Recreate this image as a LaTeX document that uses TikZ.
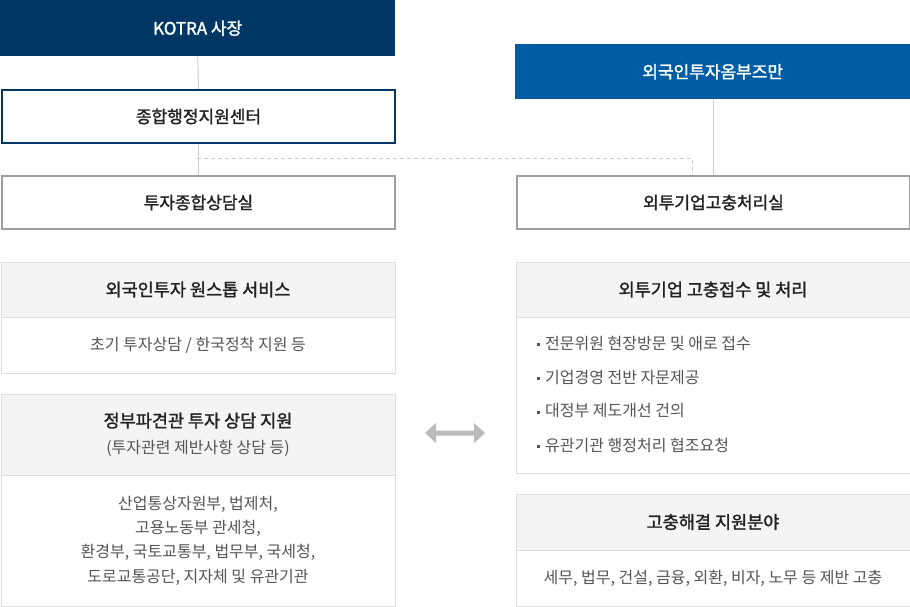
\documentclass[tikz,border=0pt]{standalone}
\usepackage{fontspec}
\usetikzlibrary{calc}
\setmainfont{Noto Sans CJK KR}
\newfontfamily\krmed{Noto Sans CJK KR}[BoldFont={Noto Sans CJK KR}, BoldFeatures={FakeBold=1.6}]
\definecolor{navy}{HTML}{003764}
\definecolor{ombu}{HTML}{005DA4}
\definecolor{hdr}{HTML}{F4F4F4}
\definecolor{bdr}{HTML}{DDDDDD}
\definecolor{gbdr}{HTML}{9E9E9E}
\definecolor{ln}{HTML}{CCCCCC}
\definecolor{txt}{HTML}{222222}
\definecolor{sub}{HTML}{555555}
\definecolor{arr}{HTML}{BBBBBB}
\tikzset{
  box/.style={minimum width=395pt, inner sep=0pt, anchor=north west},
  fillbox/.style={box, minimum height=55pt, text=white, font=\fontsize{17}{20}\selectfont\krmed\bfseries},
  orgbox/.style={box, minimum height=53pt, line width=2pt, text=txt, font=\fontsize{17}{20}\selectfont\krmed\bfseries},
  hdrbox/.style={box, fill=hdr, draw=bdr, line width=1pt, text=txt, font=\fontsize{17.5}{20}\selectfont\krmed\bfseries},
  bodybox/.style={box, fill=white, draw=bdr, line width=1pt, text=sub, font=\fontsize{16}{24.3}\selectfont, align=center},
  conn/.style={draw=ln, line width=1pt},
  dconn/.style={draw=ln, line width=1pt, dash pattern=on 4pt off 3pt},
  item/.style={anchor=west, text=sub, font=\fontsize{16}{18}\selectfont, inner sep=0pt},
  bul/.style={fill=sub, minimum size=3pt, inner sep=0pt},
}
\begin{document}
\begin{tikzpicture}[x=1pt,y=-1pt]
\useasboundingbox (0,0) rectangle (910,606);
% top organisation
\node[fillbox, fill=navy, minimum height=56pt] (kotra) at (0,0) {KOTRA 사장};
\node[orgbox, draw=navy, minimum width=393pt] (center) at (1,89) {종합행정지원센터};
\node[orgbox, draw=gbdr, minimum width=393pt] (invest) at (1,175) {투자종합상담실};
\node[fillbox, fill=ombu] (ombu) at (515,44) {외국인투자옴부즈만};
\node[orgbox, draw=gbdr, minimum width=393pt] (griev) at (516,175) {외투기업고충처리실};
\coordinate (ombx) at (713,99);
\draw[conn] (kotra.south) -- (center.north);
\draw[conn] (center.south) -- (invest.north);
\draw[conn] (ombu.south -| ombx) -- (griev.north -| ombx);
\coordinate (dA) at (197,158);
\coordinate (dB) at (692,158);
\draw[dconn] (dA) -- (dB) -- (dB |- griev.north);
% left boxes
\node[hdrbox, minimum width=394pt, minimum height=55pt] (h1) at (0.5,261.5) {외국인투자 원스톱 서비스};
\node[bodybox, minimum width=394pt, minimum height=56pt] (b1) at (0.5,316.5) {초기 투자상담 / 한국정착 지원 등};
\node[hdrbox, minimum width=394pt, minimum height=81pt, align=center] (h2) at (0.5,393.5) {정부파견관 투자 상담 지원\\[6pt]{\rmfamily\mdseries\color{sub}\fontsize{16}{18}\selectfont (투자관련 제반사항 상담 등)}};
\node[bodybox, minimum width=394pt, minimum height=131pt] (b2) at (0.5,474.5) {산업통상자원부, 법제처,\\고용노동부 관세청,\\환경부, 국토교통부, 법무부, 국세청,\\도로교통공단, 지자체 및 유관기관};
% right boxes
\node[hdrbox, minimum width=394pt, minimum height=55pt] (h3) at (515.5,261.5) {외투기업 고충접수 및 처리};
\node[bodybox, minimum width=394pt, minimum height=156pt] (b3) at (515.5,316.5) {};
\node[bul] (q1) at (538.5,344.5) {};
\node[bul] (q2) at (538.5,378.5) {};
\node[bul] (q3) at (538.5,412.5) {};
\node[bul] (q4) at (538.5,446.5) {};
\node[item] (t1) at (545,343) {전문위원 현장방문 및 애로 접수};
\node[item] (t2) at (545,377) {기업경영 전반 자문제공};
\node[item] (t3) at (545,411) {대정부 제도개선 건의};
\node[item] (t4) at (545,445) {유관기관 행정처리 협조요청};
\node[hdrbox, minimum width=394pt, minimum height=56pt] (h4) at (515.5,493.5) {고충해결 지원분야};
\node[bodybox, minimum width=394pt, minimum height=56pt] (b4) at (515.5,549.5) {세무, 법무, 건설, 금융, 외환, 비자, 노무 등 제반 고충};
% double arrow
\coordinate (aL) at (425,433);
\coordinate (aR) at (485,433);
\fill[arr] (aL) -- ++(11,-10) -- ++(0,7.5) -- ($(aR)+(-11,-2.5)$) -- ++(0,-7.5) -- (aR) -- ++(-11,10) -- ++(0,-7.5) -- ($(aL)+(11,2.5)$) -- ++(0,7.5) -- cycle;
\end{tikzpicture}
\end{document}
